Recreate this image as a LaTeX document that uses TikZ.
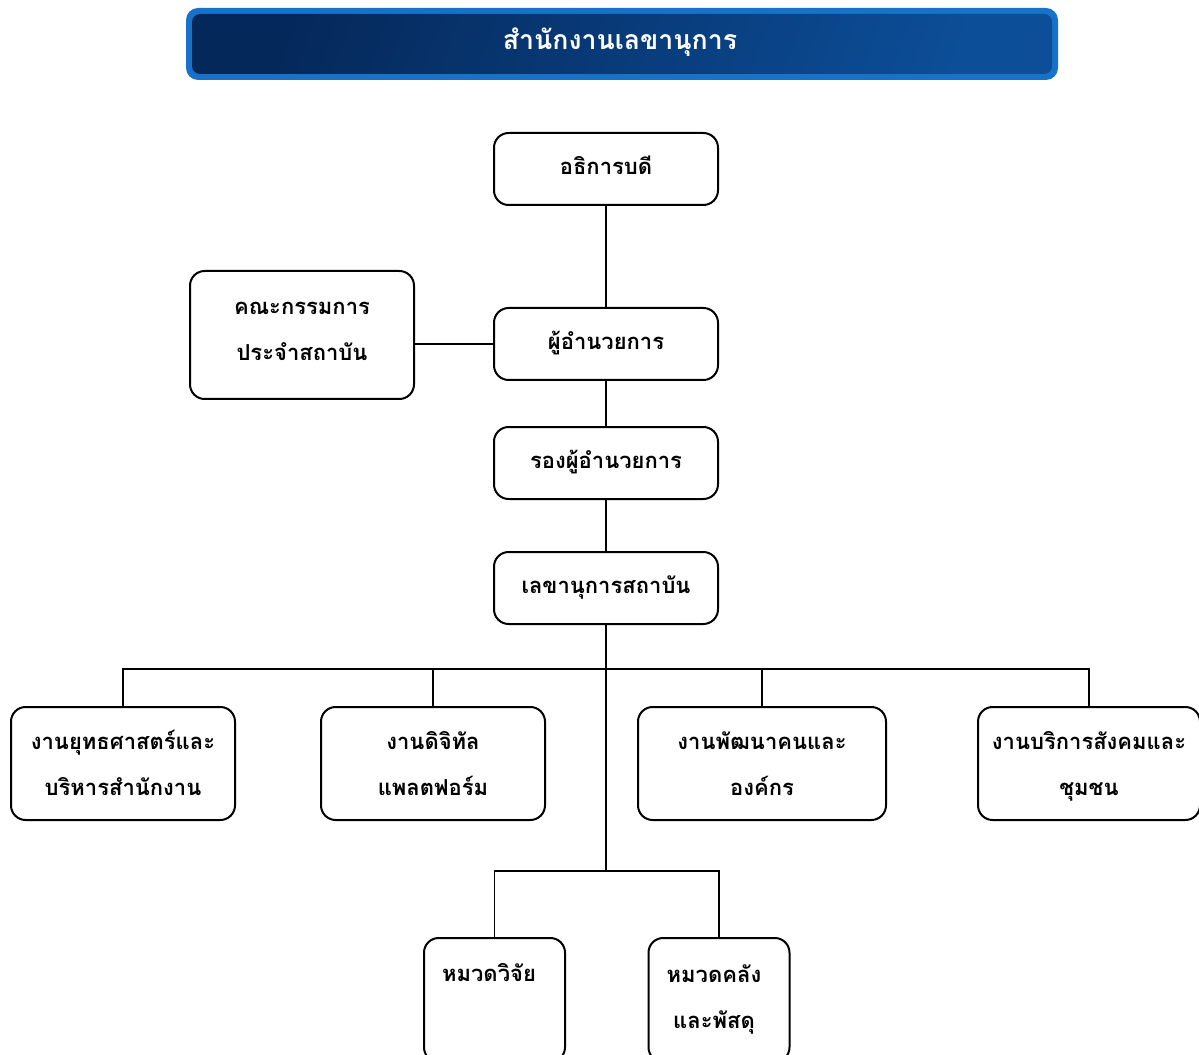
\documentclass[tikz,border=0pt]{standalone}
\usepackage{fontspec}
\newfontfamily\thaifont[Script=Thai]{Loma}
\definecolor{titleborder}{HTML}{1873C8}
\definecolor{titledark}{HTML}{05285A}
\definecolor{titlelight}{HTML}{0C4E98}
\tikzset{
  box/.style={draw=black, line width=1.5pt, rounded corners=11pt, fill=white,
    minimum width=168pt, minimum height=54pt, align=center, inner sep=0pt,
    font=\thaifont\bfseries\fontsize{16.5}{34.5}\selectfont},
  oneline/.style={text height=12pt, text depth=4pt},
  txt/.style={align=center, inner sep=0pt, font=\thaifont\bfseries\fontsize{16.5}{34.5}\selectfont},
  link/.style={draw=black, line width=1.1pt},
}
\begin{document}
\begin{tikzpicture}[x=0.75pt,y=-0.75pt]
\useasboundingbox (0,0) rectangle (1199,1055);
\clip (0,0) rectangle (1199,1055);
% title
\node[fill=titleborder, rounded corners=9pt, minimum width=654pt, minimum height=54pt, inner sep=0pt] (tb) at (622,44) {};
\node[left color=titledark, right color=titlelight, shading angle=70, rounded corners=6pt, minimum width=645pt, minimum height=45pt, inner sep=0pt] (tbi) at (622,44) {};
\node[text=white, inner sep=0pt, font=\thaifont\bfseries\fontsize{20}{24}\selectfont] (title) at (620,42) {สำนักงานเลขานุการ};
% junction points
\coordinate (hub) at (606,669);
\coordinate (hub2) at (606,871);
% boxes
\node[box, oneline] (pres) at (606,169) {อธิการบดี};
\node[box, minimum height=96pt, text depth=20.85pt] (comm) at (302,335) {คณะกรรมการ\strut\\ประจำสถาบัน\strut};
\node[box, oneline] (dir) at (606,344) {ผู้อำนวยการ};
\node[box, oneline] (dep) at (606,463) {รองผู้อำนวยการ};
\node[box, oneline] (sec) at (606,588) {เลขานุการสถาบัน};
\node[box, minimum height=84.75pt] (u1) at (123,763.5) {งานยุทธศาสตร์และ\strut\\บริหารสำนักงาน\strut};
\node[box, minimum height=84.75pt] (u2) at (433,763.5) {งานดิจิทัล\strut\\แพลตฟอร์ม\strut};
\node[box, minimum width=186pt, minimum height=84.75pt] (u3) at (762,763.5) {งานพัฒนาคนและ\strut\\องค์กร\strut};
\node[box, minimum width=166.5pt, minimum height=84.75pt] (u4) at (1089,763.5) {งานบริการสังคมและ\strut\\ชุมชน\strut};
\node[box, minimum width=105.75pt, minimum height=93pt] (r1) at (494.5,1000) {};
\node[box, minimum width=105.75pt, minimum height=93pt] (r2) at (719,1000) {};
\node[txt] (r1t) at (489,973) {หมวดวิจัย};
\node[txt] (r2t) at (714,999) {หมวดคลัง\\และพัสดุ};
% connectors
\draw[link] (pres.south) -- (dir.north);
\draw[link] (comm.east |- dir.west) -- (dir.west);
\draw[link] (dir.south) -- (dep.north);
\draw[link] (dep.south) -- (sec.north);
\draw[link] (sec.south) -- (hub) -- (hub2);
\draw[link] (u1.north) -- (u1.north |- hub) -- (u4.north |- hub) -- (u4.north);
\draw[link] (u2.north) -- (u2.north |- hub);
\draw[link] (u3.north) -- (u3.north |- hub);
\draw[link] (r1.north) -- (r1.north |- hub2) -- (r2.north |- hub2) -- (r2.north);
\end{tikzpicture}
\end{document}
